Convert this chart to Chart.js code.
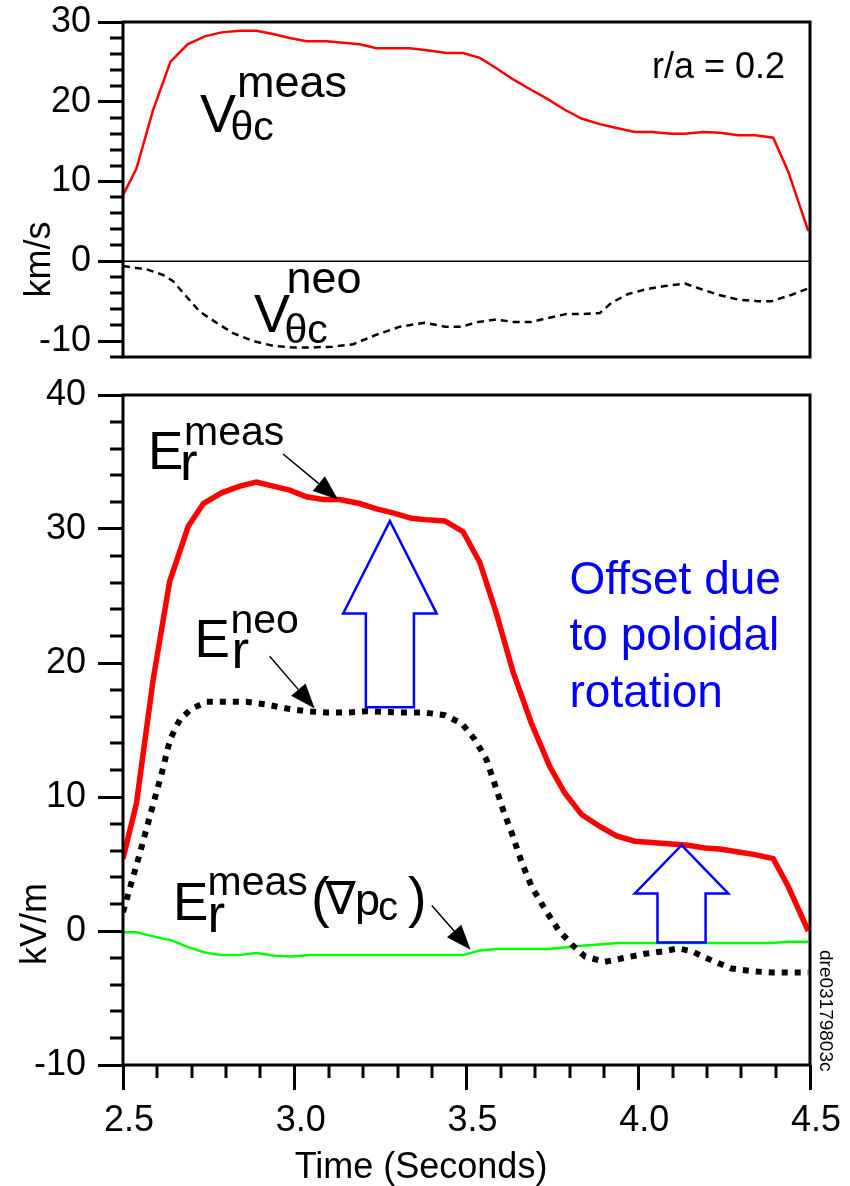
<!DOCTYPE html>
<html>
<head>
<meta charset="utf-8">
<script src="https://cdn.jsdelivr.net/npm/chart.js@4.4.0/dist/chart.umd.min.js"></script>
<style>
  body { margin: 0; background: #fff; }
  #wrap { position: relative; width: 850px; height: 1186px; overflow: hidden; }
  #top { position: absolute; left: 0; top: 0; }
  #bot { position: absolute; left: 0; top: 370px; }
</style>
</head>
<body>
<div id="wrap">
  <canvas id="top" width="850" height="370"></canvas>
  <canvas id="bot" width="850" height="816"></canvas>
</div>
<script>
const FONT = 'Arial, "Liberation Sans", Helvetica, sans-serif';

// top panel: poloidal rotation velocity, km/s
const vMeasTime = [2.500, 2.539, 2.587, 2.638, 2.688, 2.738, 2.787, 2.840, 2.888, 2.937, 2.985, 3.034, 3.092, 3.141, 3.189, 3.238, 3.286, 3.335, 3.379, 3.442, 3.490, 3.539, 3.587, 3.636, 3.684, 3.738, 3.786, 3.835, 3.888, 3.937, 3.990, 4.039, 4.097, 4.136, 4.189, 4.238, 4.291, 4.340, 4.393, 4.437, 4.495];
const vMeas = [8.3, 11.6, 18.9, 25.0, 27.2, 28.2, 28.7, 28.9, 28.9, 28.5, 28.0, 27.6, 27.6, 27.4, 27.2, 26.7, 26.7, 26.7, 26.5, 26.1, 26.1, 25.5, 24.2, 22.8, 21.6, 20.3, 19.0, 17.9, 17.2, 16.7, 16.2, 16.2, 16.0, 16.0, 16.2, 16.1, 15.8, 15.8, 15.5, 11.2, 3.8];
const vNeoTime = [2.500, 2.568, 2.616, 2.646, 2.680, 2.723, 2.772, 2.820, 2.879, 2.937, 2.995, 3.053, 3.110, 3.170, 3.238, 3.306, 3.379, 3.437, 3.486, 3.534, 3.587, 3.636, 3.689, 3.738, 3.791, 3.840, 3.888, 3.922, 3.971, 4.024, 4.077, 4.136, 4.184, 4.233, 4.291, 4.349, 4.388, 4.447, 4.495];
const vNeo = [-0.6, -1.0, -1.7, -2.5, -4.2, -6.3, -7.7, -9.0, -10.0, -10.6, -10.8, -10.8, -10.7, -10.4, -9.2, -8.2, -7.7, -8.2, -8.2, -7.6, -7.3, -7.6, -7.6, -7.1, -6.6, -6.6, -6.5, -5.2, -4.1, -3.5, -3.1, -2.8, -3.5, -4.2, -4.8, -5.0, -5.0, -4.2, -3.4];

// bottom panel: radial electric field, kV/m
const erMeasTime = [2.500, 2.539, 2.588, 2.636, 2.690, 2.734, 2.787, 2.840, 2.888, 2.937, 2.985, 3.034, 3.083, 3.131, 3.189, 3.238, 3.286, 3.340, 3.379, 3.437, 3.490, 3.539, 3.587, 3.636, 3.689, 3.742, 3.786, 3.835, 3.888, 3.937, 3.990, 4.039, 4.097, 4.145, 4.194, 4.243, 4.291, 4.340, 4.393, 4.437, 4.495];
const erMeas = [5.4, 9.5, 18.8, 26.1, 30.2, 31.9, 32.7, 33.2, 33.5, 33.2, 32.9, 32.4, 32.2, 32.2, 31.9, 31.5, 31.2, 30.8, 30.7, 30.6, 29.8, 27.5, 23.7, 19.3, 15.5, 12.3, 10.3, 8.7, 7.8, 7.1, 6.7, 6.6, 6.5, 6.4, 6.2, 6.1, 5.9, 5.7, 5.4, 3.3, 0.0];
const erNeoTime = [2.500, 2.549, 2.583, 2.613, 2.637, 2.666, 2.700, 2.744, 2.802, 2.860, 2.918, 2.977, 3.034, 3.093, 3.151, 3.209, 3.306, 3.379, 3.437, 3.486, 3.524, 3.558, 3.583, 3.607, 3.632, 3.661, 3.690, 3.729, 3.767, 3.806, 3.845, 3.903, 3.961, 4.019, 4.077, 4.116, 4.155, 4.214, 4.272, 4.330, 4.388, 4.447, 4.495];
const erNeo = [1.4, 5.8, 9.0, 11.8, 14.3, 15.8, 16.6, 17.1, 17.1, 17.1, 16.9, 16.6, 16.4, 16.3, 16.3, 16.4, 16.3, 16.3, 16.1, 15.5, 14.3, 12.8, 10.9, 9.0, 7.3, 5.1, 3.3, 1.6, 0.1, -1.0, -1.9, -2.3, -2.0, -1.7, -1.5, -1.3, -1.5, -2.2, -2.8, -3.0, -3.1, -3.1, -3.1];
const erGradTime = [2.500, 2.539, 2.588, 2.641, 2.690, 2.738, 2.787, 2.835, 2.888, 2.942, 2.990, 3.044, 3.490, 3.539, 3.587, 3.738, 3.835, 3.942, 4.388, 4.437, 4.495];
const erGrad = [-0.1, -0.1, -0.4, -0.7, -1.2, -1.6, -1.8, -1.8, -1.65, -1.85, -1.9, -1.8, -1.8, -1.45, -1.35, -1.35, -1.1, -0.9, -0.9, -0.8, -0.8];

// blue offset arrows: time, shaft bottom, head base, tip (kV/m)
const offsetTime = [3.277, 4.126];
const offsetFrom = [16.7, -0.85];
const offsetHead = [23.7, 2.8];
const offsetTo = [30.6, 6.4];

// thin label pointers: tail and tip (time, kV/m)
const pointerTailT = [2.966, 2.927, 3.399];
const pointerTailV = [35.6, 20.5, 1.9];
const pointerTipT = [3.126, 3.058, 3.512];
const pointerTipV = [32.2, 16.6, -1.4];

// labelled ticks
const vTickLabels = [-10, 0, 10, 20, 30];
const erTickLabels = [-10, 0, 10, 20, 30, 40];
const timeTickLabels = [2.5, 3.0, 3.5, 4.0, 4.5];

Chart.defaults.font.family = FONT;
Chart.defaults.color = '#000';

const pts = (t, v) => t.map((x, i) => ({ x: x, y: v[i] }));
const isMajor = (v, list) => list.some(m => Math.abs(m - v) < 1e-6);

function arrowOutline(t, from, head, to) {
  const h = 0.136, s = 0.07;
  return [
    { x: t, y: to }, { x: t + h, y: head }, { x: t + s, y: head }, { x: t + s, y: from },
    { x: t - s, y: from }, { x: t - s, y: head }, { x: t - h, y: head }, { x: t, y: to },
    { x: t + h, y: head }
  ];
}

function yAxis(min, max, labels, pad) {
  return {
    min: min, max: max,
    afterFit(scale) { scale.width = 123; scale.paddingTop = 0; scale.paddingBottom = 0; },
    ticks: {
      stepSize: 2, maxTicksLimit: 100, autoSkip: false, padding: pad, color: '#000',
      font: { size: 36 },
      callback: v => isMajor(v, labels) ? String(v) : ''
    },
    grid: {
      drawOnChartArea: false, tickLength: 25, tickWidth: 3,
      tickColor: c => (c.tick && isMajor(c.tick.value, labels)) ? '#000' : 'rgba(0,0,0,0)'
    },
    border: { display: false }
  };
}

function text(ctx, str, x, y, size, opts) {
  opts = opts || {};
  ctx.save();
  ctx.font = size + 'px ' + FONT;
  ctx.fillStyle = opts.color || '#000';
  ctx.textAlign = opts.align || 'left';
  ctx.textBaseline = 'alphabetic';
  ctx.translate(x, y);
  if (opts.rot) ctx.rotate(opts.rot);
  ctx.fillText(str, 0, 0);
  ctx.restore();
}

function pointer(ctx, x1, y1, x2, y2) {
  const a = Math.atan2(y2 - y1, x2 - x1);
  const len = 25, half = 9.5;
  const bx = x2 - len * Math.cos(a), by = y2 - len * Math.sin(a);
  ctx.save();
  ctx.strokeStyle = '#000';
  ctx.lineWidth = 1.5;
  ctx.beginPath();
  ctx.moveTo(x1, y1);
  ctx.lineTo(bx, by);
  ctx.stroke();
  ctx.fillStyle = '#000';
  ctx.beginPath();
  ctx.moveTo(x2, y2);
  ctx.lineTo(bx + half * Math.sin(a), by - half * Math.cos(a));
  ctx.lineTo(bx - half * Math.sin(a), by + half * Math.cos(a));
  ctx.closePath();
  ctx.fill();
  ctx.restore();
}

// box, minor ticks, zero line and annotations
const frame = {
  id: 'frame',
  afterDatasetsDraw(chart) {
    const ctx = chart.ctx;
    const a = chart.chartArea;
    const xs = chart.scales.x, ys = chart.scales.y;
    const isTop = chart.canvas.id === 'top';
    const yLabels = isTop ? vTickLabels : erTickLabels;

    ctx.save();
    ctx.strokeStyle = '#000';
    ctx.lineWidth = 3;
    ys.ticks.forEach(t => {
      if (isMajor(t.value, yLabels)) return;
      const p = Math.round(ys.getPixelForValue(t.value));
      ctx.beginPath();
      ctx.moveTo(a.left - 13, p);
      ctx.lineTo(a.left, p);
      ctx.stroke();
    });
    if (!isTop) {
      xs.ticks.forEach(t => {
        if (isMajor(t.value, timeTickLabels)) return;
        const p = Math.round(xs.getPixelForValue(t.value));
        ctx.beginPath();
        ctx.moveTo(p, a.bottom);
        ctx.lineTo(p, a.bottom + 13);
        ctx.stroke();
      });
    }
    ctx.strokeRect(a.left, a.top, a.right - a.left, a.bottom - a.top);
    ctx.restore();

    if (isTop) {
      const z = ys.getPixelForValue(0);
      ctx.save();
      ctx.strokeStyle = '#000';
      ctx.lineWidth = 1.5;
      ctx.beginPath();
      ctx.moveTo(a.left, z);
      ctx.lineTo(a.right, z);
      ctx.stroke();
      ctx.restore();

      text(ctx, 'km/s', 50, 259.5, 36, { align: 'center', rot: -Math.PI / 2 });
      text(ctx, 'r/a = 0.2', 785, 78, 36, { align: 'right' });
      text(ctx, 'V', 200, 131.5, 54);
      text(ctx, 'meas', 237, 96.5, 45);
      text(ctx, '\u03b8c', 230.5, 140, 41);
      text(ctx, 'V', 254, 331.5, 54);
      text(ctx, 'neo', 286.5, 292.5, 45);
      text(ctx, '\u03b8c', 284.5, 342.5, 41);
    } else {
      for (let i = 0; i < pointerTipT.length; i++) {
        pointer(ctx,
          xs.getPixelForValue(pointerTailT[i]), ys.getPixelForValue(pointerTailV[i]),
          xs.getPixelForValue(pointerTipT[i]), ys.getPixelForValue(pointerTipV[i]));
      }
      text(ctx, 'kV/m', 45.5, 554, 36, { align: 'center', rot: -Math.PI / 2 });
      text(ctx, 'Time (Seconds)', 421, 808, 36, { align: 'center' });
      text(ctx, 'dre03179803c', 820, 580, 19, { rot: Math.PI / 2 });

      text(ctx, 'E', 148, 98.5, 53);
      text(ctx, 'meas', 184, 75, 41);
      text(ctx, 'r', 180, 109.5, 53);

      text(ctx, 'E', 194.5, 286.5, 53);
      text(ctx, 'neo', 230.5, 263, 41);
      text(ctx, 'r', 231.5, 298, 53);

      text(ctx, 'E', 173, 550, 53);
      text(ctx, 'meas', 207.5, 525, 41);
      text(ctx, 'r', 207.5, 561.5, 53);
      text(ctx, '(', 311, 546, 56);
      text(ctx, '\u2207', 325, 544, 46);
      text(ctx, 'p', 355, 545, 45);
      text(ctx, 'c', 378, 550, 40);
      text(ctx, ')', 408, 546, 56);

      const blue = '#0000ff';
      text(ctx, 'Offset due', 569.5, 223.5, 46, { color: blue });
      text(ctx, 'to poloidal', 569.5, 280, 46, { color: blue });
      text(ctx, 'rotation', 569.5, 336.5, 46, { color: blue });
    }
  }
};

const common = {
  responsive: false,
  animation: false,
  events: [],
  plugins: { legend: { display: false }, tooltip: { enabled: false } }
};

new Chart(document.getElementById('top'), {
  type: 'line',
  data: {
    datasets: [
      { data: pts(vMeasTime, vMeas), borderColor: '#ff0000', borderWidth: 2.5, pointRadius: 0 },
      { data: pts(vNeoTime, vNeo), borderColor: '#000', borderWidth: 2.5, borderDash: [7, 5], borderCapStyle: 'butt', pointRadius: 0 }
    ]
  },
  options: Object.assign({}, common, {
    layout: { padding: { left: 0, right: 40, top: 22, bottom: 13 } },
    scales: {
      x: { type: 'linear', min: 2.5, max: 4.5, display: false },
      y: yAxis(-12, 30, vTickLabels, 7)
    }
  }),
  plugins: [frame]
});

const arrowSets = offsetTime.map((t, i) => ({
  data: arrowOutline(t, offsetFrom[i], offsetHead[i], offsetTo[i]),
  borderColor: '#0000ff', borderWidth: 2.5, pointRadius: 0,
  borderJoinStyle: 'miter', order: 0
}));

new Chart(document.getElementById('bot'), {
  type: 'line',
  data: {
    datasets: arrowSets.concat([
      { data: pts(erMeasTime, erMeas), borderColor: '#ff0000', borderWidth: 5.5, pointRadius: 0, order: 1 },
      { data: pts(erNeoTime, erNeo), borderColor: '#000', borderWidth: 6, borderDash: [6, 7], borderCapStyle: 'butt', pointRadius: 0, order: 2 },
      { data: pts(erGradTime, erGrad), borderColor: '#00ff00', borderWidth: 2.5, pointRadius: 0, order: 3 }
    ])
  },
  options: Object.assign({}, common, {
    layout: { padding: { left: 0, right: 40, top: 25, bottom: 0 } },
    scales: {
      x: {
        type: 'linear', min: 2.5, max: 4.5,
        afterFit(scale) { scale.height = 121; scale.paddingLeft = 0; scale.paddingRight = 0; },
        ticks: {
          stepSize: 0.1, maxTicksLimit: 100, autoSkip: false, maxRotation: 0, minRotation: 0,
          padding: 9, labelOffset: 6, color: '#000', font: { size: 36 },
          callback: v => isMajor(v, timeTickLabels) ? v.toFixed(1) : ''
        },
        grid: {
          drawOnChartArea: false, tickLength: 25, tickWidth: 3,
          tickColor: c => (c.tick && isMajor(c.tick.value, timeTickLabels)) ? '#000' : 'rgba(0,0,0,0)'
        },
        border: { display: false }
      },
      y: yAxis(-10, 40, erTickLabels, 12)
    }
  }),
  plugins: [frame]
});
</script>
</body>
</html>
